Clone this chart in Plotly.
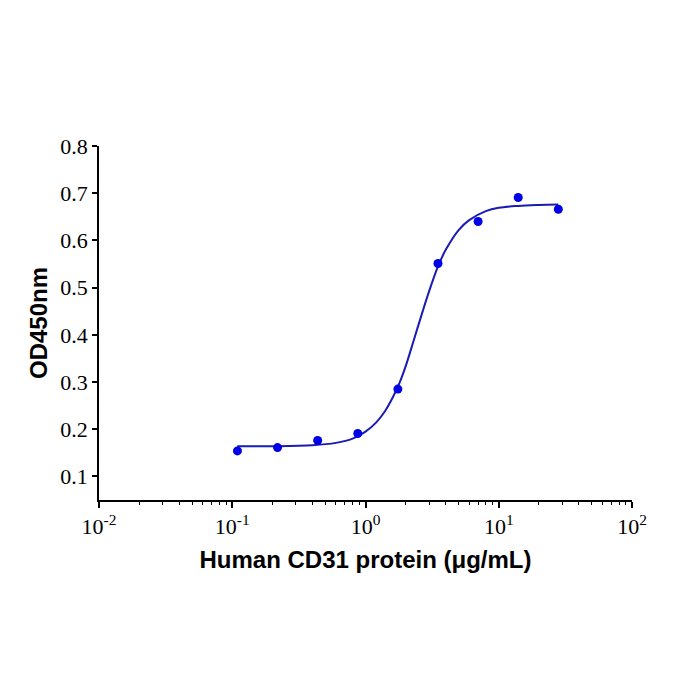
import plotly.graph_objects as go

# Measured points
conc = [0.109375, 0.21875, 0.4375, 0.875, 1.75, 3.5, 7, 14, 28]
od450 = [0.154, 0.161, 0.176, 0.191, 0.285, 0.551, 0.640, 0.691, 0.666]

# Fitted curve
curve_x = [0.109, 0.2, 0.4, 0.6, 0.8, 1.0, 1.2, 1.4, 1.6, 1.8, 2.0, 2.3, 2.6,
           3.0, 3.5, 4.0, 5.0, 6.0, 8.0, 10, 14, 20, 28]
curve_y = [0.164, 0.164, 0.166, 0.171, 0.180, 0.195, 0.214, 0.238, 0.267, 0.298,
           0.333, 0.388, 0.437, 0.492, 0.545, 0.580, 0.622, 0.643, 0.662,
           0.669, 0.673, 0.675, 0.676]

x_ticks = [0.01, 0.1, 1, 10, 100]
x_tick_labels = ["10<sup>-2</sup>", "10<sup>-1</sup>", "10<sup>0</sup>",
                 "10<sup>1</sup>", "10<sup>2</sup>"]
y_ticks = [0.1, 0.2, 0.3, 0.4, 0.5, 0.6, 0.7, 0.8]
y_tick_labels = ["0.1", "0.2", "0.3", "0.4", "0.5", "0.6", "0.7", "0.8"]

fig = go.Figure()
fig.add_trace(go.Scatter(x=curve_x, y=curve_y, mode="lines",
                         line=dict(color="#1a1ab4", width=2, shape="spline"),
                         hoverinfo="skip", showlegend=False))
fig.add_trace(go.Scatter(x=conc, y=od450, mode="markers",
                         marker=dict(color="#0000e6", size=9),
                         showlegend=False))

fig.update_layout(
    width=700, height=700,
    margin=dict(l=99, r=68, t=146, b=200),
    paper_bgcolor="white", plot_bgcolor="white",
    xaxis=dict(
        type="log", range=[-2, 2], tickmode="array",
        tickvals=x_ticks, ticktext=x_tick_labels,
        showgrid=False, zeroline=False,
        showline=True, linecolor="black", linewidth=1.5,
        ticks="outside", ticklen=6, tickwidth=1.5, tickcolor="black",
        minor=dict(ticks="outside", ticklen=3, tickwidth=1, tickcolor="black",
                   dtick="D1", showgrid=False),
        tickfont=dict(family="Liberation Serif", size=22, color="black"),
        title=dict(text="<b>Human CD31 protein (μg/mL)</b>",
                   font=dict(family="Liberation Sans", size=24, color="black"),
                   standoff=13),
    ),
    yaxis=dict(
        range=[0.05, 0.8], tickvals=y_ticks, ticktext=y_tick_labels,
        showgrid=False, zeroline=False,
        showline=True, linecolor="black", linewidth=1.5,
        ticks="outside", ticklen=5, tickwidth=1.5, tickcolor="black",
        tickfont=dict(family="Liberation Serif", size=22, color="black"),
        title=dict(text="<b>OD450nm</b>",
                   font=dict(family="Liberation Sans", size=24, color="black"),
                   standoff=6),
    ),
)

fig.write_html("out.html")
